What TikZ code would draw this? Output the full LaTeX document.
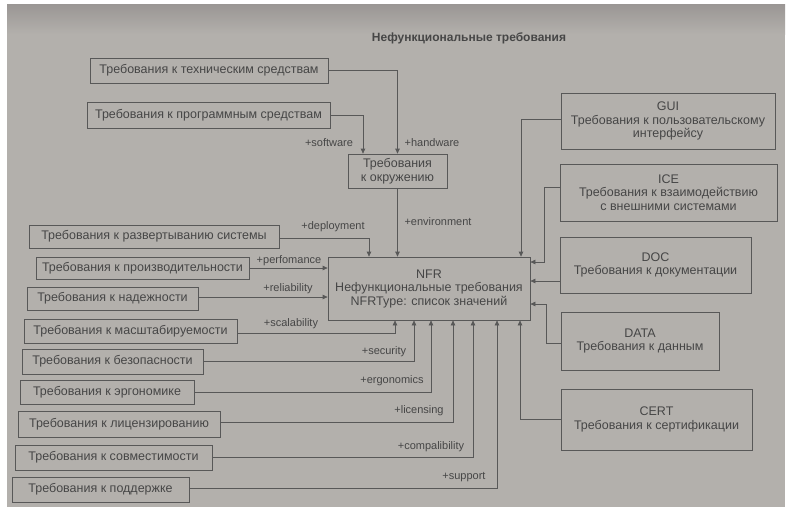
\documentclass[tikz,border=0pt]{standalone}
\usepackage{fontspec}
\setmainfont{Liberation Sans}
\usetikzlibrary{arrows.meta,calc}
\definecolor{page}{HTML}{B3B0AC}
\definecolor{pagetop}{HTML}{9A9694}
\definecolor{ink}{HTML}{464646}
\definecolor{linec}{HTML}{585858}
\begin{document}
\begin{tikzpicture}[x=1pt,y=-1pt,
  box/.style={draw=linec, line width=0.75pt, inner sep=0pt, text=ink,
    font=\fontsize{12.5}{13.5}\selectfont, align=center},
  lbl/.style={text=ink, font=\fontsize{11}{13}\selectfont, inner sep=0pt},
  conn/.style={draw=linec, line width=0.75pt, -{Triangle[length=5pt,width=4.5pt]}},
  ttl/.style={text=ink, font=\bfseries\fontsize{12}{13}\selectfont, inner sep=0pt}]
\useasboundingbox (0,0) rectangle (787,512);
\fill[white] (0,0) rectangle (787,512);
\fill[page] (7,4) rectangle (785,507);
\shade[top color=pagetop, bottom color=page] (7,4) rectangle (785,34);

\node[ttl] (title) at (469,38) {Нефункциональные требования};

% left boxes
\node[box, minimum width=238pt, minimum height=25pt] (tech) at (209,70.5) {Требования к техническим средствам};
\node[box, minimum width=243pt, minimum height=26pt] (prog) at (208.5,115) {Требования к программным средствам};
\node[box, minimum width=99pt, minimum height=34pt] (env) at (397.5,171) {Требования\\к окружению};
\node[box, minimum width=250pt, minimum height=23pt] (deploy) at (154,236.5) {Требования к развертыванию системы};
\node[box, minimum width=213pt, minimum height=22pt] (perf) at (142.5,268) {Требования к производительности};
\node[box, minimum width=171pt, minimum height=23pt] (rel) at (112.5,298.5) {Требования к надежности};
\node[box, minimum width=213pt, minimum height=24pt] (scal) at (130.5,331) {Требования к масштабируемости};
\node[box, minimum width=181pt, minimum height=25pt] (sec) at (112.5,361.5) {Требования к безопасности};
\node[box, minimum width=174pt, minimum height=24pt] (erg) at (107,392) {Требования к эргономике};
\node[box, minimum width=202pt, minimum height=26pt] (lic) at (119,424) {Требования к лицензированию};
\node[box, minimum width=197pt, minimum height=25pt] (comp) at (113.5,457.5) {Требования к совместимости};
\node[box, minimum width=177pt, minimum height=25pt] (supp) at (100.5,489.5) {Требования к поддержке};

% central
\node[box, minimum width=202pt, minimum height=63pt] (nfr) at (429,288.5) {NFR\\Нефункциональные требования\\NFRType: список значений};

% right boxes
\node[box, minimum width=214pt, minimum height=56pt] (gui) at (668,121) {GUI\\Требования к пользовательскому\\интерфейсу};
\node[box, minimum width=217pt, minimum height=57pt] (ice) at (668.5,192.5) {ICE\\Требования к взаимодействию\\с внешними системами};
\node[box, minimum width=191pt, minimum height=56pt] (doc) at (655.5,265) {DOC\\Требования к документации};
\node[box, minimum width=158pt, minimum height=58pt] (data) at (640,341) {DATA\\Требования к данным};
\node[box, minimum width=191pt, minimum height=61pt] (cert) at (656.5,419.5) {CERT\\Требования к сертификации};

% connectors top
\draw[conn] (tech.east) -| (env.north);
\draw[conn] (prog.east) -| ([xshift=-34.5pt]env.north);
\draw[conn] (env.south) -- (env.south |- nfr.north);
\draw[conn] ([yshift=-1.5pt]deploy.east) -| ([xshift=-60pt]nfr.north);
\draw[conn] ([yshift=2pt]gui.west) -| ([xshift=92pt]nfr.north);

% connectors left
\draw[conn] (perf.east) -- (perf.east -| nfr.west);
\coordinate (relout) at ([yshift=1.5pt]rel.east);
\draw[conn] (relout) -- (relout -| nfr.west);

% connectors bottom
\draw[conn] ([yshift=-2pt]scal.east) -| ([xshift=-34pt]nfr.south);
\draw[conn] (sec.east) -| ([xshift=-15pt]nfr.south);
\draw[conn] (erg.east) -| ([xshift=2pt]nfr.south);
\draw[conn] ([yshift=1.5pt]lic.east) -| ([xshift=24pt]nfr.south);
\draw[conn] (comp.east) -| ([xshift=44pt]nfr.south);
\draw[conn] ([yshift=1.5pt]supp.east) -| ([xshift=68pt]nfr.south);
\draw[conn] (cert.west) -| ([xshift=91pt]nfr.south);

% connectors right
\draw[conn] ([yshift=5.5pt]ice.west) -- ++(-15,0) |- ([yshift=26.5pt]nfr.east);
\coordinate (docout) at ([yshift=-16pt]doc.west);
\draw[conn] (docout) -- (docout -| nfr.east);
\draw[conn] ([yshift=-2pt]data.west) -- ++(-14,0) |- ([yshift=-15.5pt]nfr.east);

% labels
\node[lbl] (lsoft) at (329,143) {+software};
\node[lbl] (lhard) at (432,143) {+handware};
\node[lbl] (lenv) at (438,222) {+environment};
\node[lbl] (ldep) at (333,227) {+deployment};
\node[lbl] (lperf) at (289,261) {+perfomance};
\node[lbl] (lrel) at (288,289) {+reliability};
\node[lbl] (lscal) at (291,324) {+scalability};
\node[lbl] (lsec) at (384,352) {+security};
\node[lbl] (lerg) at (392,381) {+ergonomics};
\node[lbl] (llic) at (419,411) {+licensing};
\node[lbl] (lcomp) at (431,447) {+compalibility};
\node[lbl] (lsupp) at (464,477) {+support};
\end{tikzpicture}
\end{document}
